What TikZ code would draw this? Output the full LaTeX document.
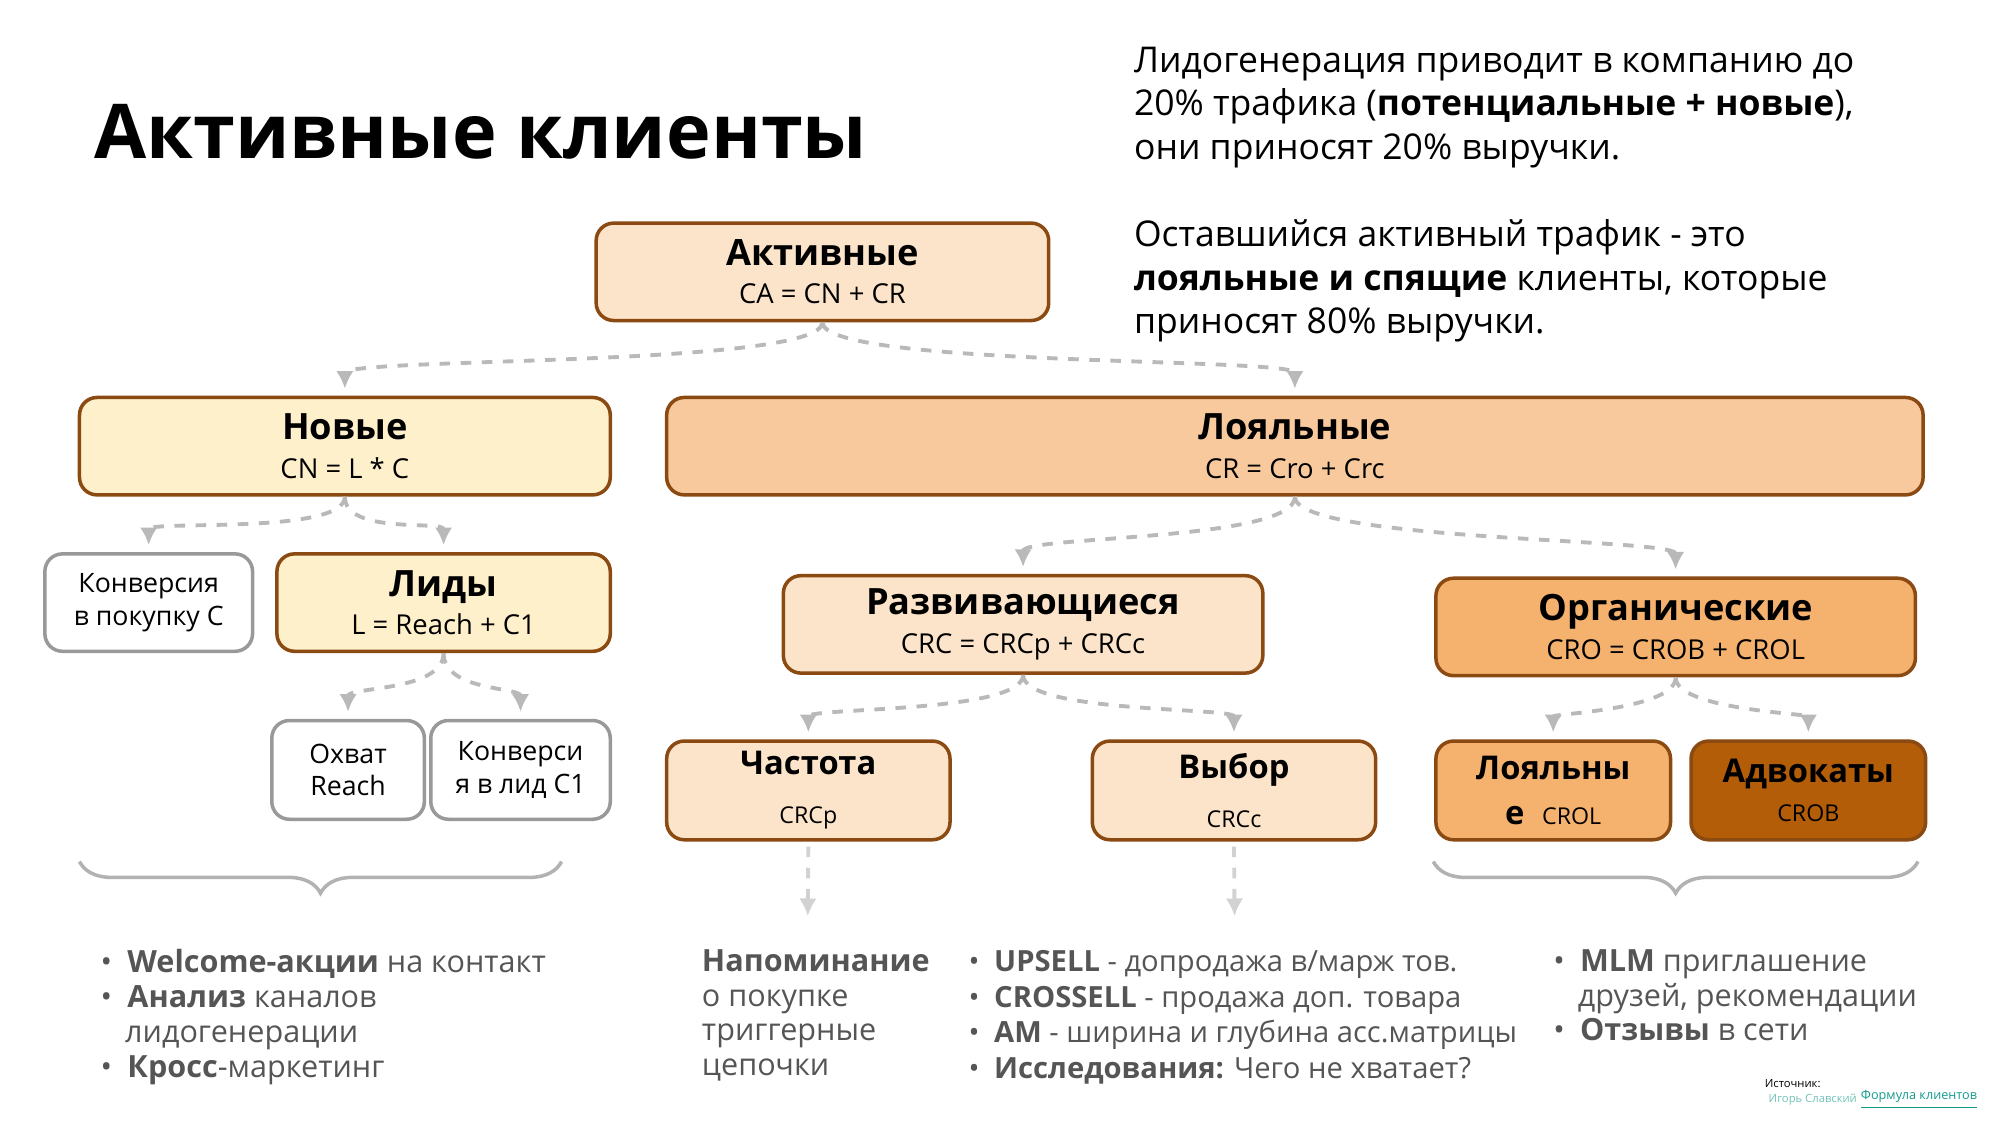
\documentclass[tikz,border=0pt]{standalone}
\usepackage{fontspec}
\setmainfont{Open Sans}
\usetikzlibrary{decorations.pathreplacing}
\definecolor{brownline}{HTML}{8A4A12}
\definecolor{peach}{HTML}{FCE4CA}
\definecolor{paleyellow}{HTML}{FFF0CC}
\definecolor{apricot}{HTML}{F8C99C}
\definecolor{orangebox}{HTML}{F5B26E}
\definecolor{darkorange}{HTML}{B35D08}
\definecolor{linkteal}{HTML}{139A8C}
\definecolor{bodygray}{HTML}{555555}
\newcommand\vp{0.01282cm}
\tikzset{
  box/.style={draw=brownline, line width=1pt, rounded corners=5pt, align=center, inner sep=0pt},
  graybox/.style={draw=gray!80, line width=1pt, rounded corners=5pt, align=center, inner sep=0pt, fill=white},
  flow/.style={draw=gray!55, dashed, line width=1.1pt, -{Latex[length=5pt,width=5pt]}, shorten >=2pt},
  btitle/.style={font=\fontsize{10.3}{12.5}\selectfont\bfseries},
}
\newcommand\frm[1]{\\[-1pt]{\fontsize{7.8}{9}\selectfont #1}}
\usetikzlibrary{arrows.meta}
\begin{document}
\begin{tikzpicture}[x=0.01282cm,y=-0.01282cm]
  \useasboundingbox (0,0) rectangle (1560,877.5);

  % title and side text
  \node[anchor=west,font=\fontsize{21.5}{24}\selectfont\bfseries] (title) at (64,103) {Активные клиенты};
  \node[anchor=north west,align=left,font=\fontsize{10.1}{12.4}\selectfont,inner sep=0pt] (note) at (884,36)
    {Лидогенерация приводит в компанию до\\
     20\% трафика (\textbf{потенциальные + новые}),\\
     они приносят 20\% выручки.\\[12.4pt]
     Оставшийся активный трафик - это\\
     \textbf{лояльные и спящие} клиенты, которые\\
     приносят 80\% выручки.};

  % boxes
  \node[box,fill=peach,minimum width=353*\vp,minimum height=76*\vp] (act) at (641.5,212)
    {\fontsize{10.3}{12.5}\selectfont\bfseries Активные\frm{CA = CN + CR}};
  \node[box,fill=paleyellow,minimum width=414*\vp,minimum height=76*\vp] (newc) at (269,348)
    {\fontsize{10.3}{12.5}\selectfont\bfseries Новые\frm{CN = L * C}};
  \node[box,fill=apricot,minimum width=980*\vp,minimum height=76*\vp] (loyal) at (1010,348)
    {\fontsize{10.3}{12.5}\selectfont\bfseries Лояльные\frm{CR = Cro + Crc}};
  \node[graybox,minimum width=162*\vp,minimum height=76*\vp,font=\fontsize{7.6}{9.2}\selectfont] (conv) at (116,470)
    {Конверсия\\в покупку С};
  \node[box,fill=paleyellow,minimum width=260*\vp,minimum height=76*\vp] (leads) at (346,470)
    {\fontsize{10.3}{12.5}\selectfont\bfseries Лиды\frm{L = Reach + C1}};
  \node[box,fill=peach,minimum width=374*\vp,minimum height=76*\vp] (dev) at (798,487)
    {\fontsize{10.3}{12.5}\selectfont\bfseries Развивающиеся\frm{CRC = CRCp + CRCc}};
  \node[box,fill=orangebox,minimum width=374*\vp,minimum height=76*\vp] (org) at (1307,489)
    {\fontsize{10.3}{12.5}\selectfont\bfseries Органические\frm{CRO = CROB + CROL}};
  \node[graybox,minimum width=119*\vp,minimum height=77*\vp,font=\fontsize{7.6}{9.2}\selectfont] (reach) at (271.5,600.5)
    {Охват\\Reach};
  \node[graybox,minimum width=140*\vp,minimum height=77*\vp,font=\fontsize{7.6}{9.2}\selectfont] (convl) at (406,600.5)
    {Конверси\\я в лид С1};
  \node[box,fill=peach,minimum width=221*\vp,minimum height=77*\vp] (freq) at (630.5,616.5)
    {\fontsize{9.3}{12}\selectfont\bfseries Частота\\[2pt]{\fontsize{6.6}{8}\selectfont CRCp}};
  \node[box,fill=peach,minimum width=221*\vp,minimum height=77*\vp] (choice) at (962.5,616.5)
    {\fontsize{9.3}{12}\selectfont\bfseries Выбор\\[2pt]{\fontsize{6.6}{8}\selectfont CRCc}};
  \node[box,fill=orangebox,minimum width=183*\vp,minimum height=77*\vp] (loyl) at (1211.5,616.5)
    {\fontsize{9.3}{12}\selectfont\bfseries Лояльны\\[1pt]{\fontsize{9.3}{12}\selectfont\bfseries е}\enspace{\fontsize{6.6}{8}\selectfont CROL}};
  \node[box,fill=darkorange,minimum width=183*\vp,minimum height=77*\vp] (adv) at (1410.5,616.5)
    {\fontsize{9.3}{12}\selectfont\bfseries Адвокаты\\[-1pt]{\fontsize{6.6}{8}\selectfont CROB}};

  % dashed connectors
  \draw[flow] (act.south) .. controls +(0,35) and +(0,-30) .. (newc.north);
  \draw[flow] (act.south) .. controls +(0,35) and +(0,-30) .. (loyal.north);
  \draw[flow] (newc.south) .. controls +(0,30) and +(0,-25) .. (conv.north);
  \draw[flow] (newc.south) .. controls +(0,30) and +(0,-25) .. (leads.north);
  \draw[flow] (loyal.south) .. controls +(0,35) and +(0,-30) .. (dev.north);
  \draw[flow] (loyal.south) .. controls +(0,35) and +(0,-30) .. (org.north);
  \draw[flow] (leads.south) .. controls +(0,30) and +(0,-25) .. (reach.north);
  \draw[flow] (leads.south) .. controls +(0,30) and +(0,-25) .. (convl.north);
  \draw[flow] (dev.south) .. controls +(0,30) and +(0,-25) .. (freq.north);
  \draw[flow] (dev.south) .. controls +(0,30) and +(0,-25) .. (choice.north);
  \draw[flow] (org.south) .. controls +(0,25) and +(0,-20) .. (loyl.north);
  \draw[flow] (org.south) .. controls +(0,25) and +(0,-20) .. (adv.north);
  \coordinate (freqend) at (630,720);
  \coordinate (choiceend) at (963,720);
  \draw[flow,draw=gray!35] (freq.south) ++(0,4) -- (freqend);
  \draw[flow,draw=gray!35] (choice.south) ++(0,4) -- (choiceend);

  % braces
  \draw[gray!60,line width=1pt,decorate,decoration={brace,mirror,amplitude=9pt}] (62,672) -- (438,672);
  \draw[gray!60,line width=1pt,decorate,decoration={brace,mirror,amplitude=9pt}] (1118,672) -- (1496,672);

  % bottom texts
  \node[anchor=north west,align=left,inner sep=0pt,text=bodygray,font=\fontsize{8.7}{9.9}\selectfont] (tleft) at (78,740)
    {•\enspace\textbf{Welcome-акции} на контакт\\
     •\enspace\textbf{Анализ} каналов\\
     \hspace*{0.8em}лидогенерации\\
     •\enspace\textbf{Кросс}-маркетинг};
  \node[anchor=north west,align=left,inner sep=0pt,text=bodygray,font=\fontsize{8.7}{9.9}\selectfont] (tremind) at (547,740)
    {\textbf{Напоминание}\\о покупке\\триггерные\\цепочки};
  \node[anchor=north west,align=left,inner sep=0pt,text=bodygray,font=\fontsize{8.3}{10.1}\selectfont] (tmid) at (755,741)
    {•\enspace\textbf{UPSELL} - допродажа в/марж тов.\\
     •\enspace\textbf{CROSSELL} - продажа доп. товара\\
     •\enspace\textbf{AM} - ширина и глубина асс.матрицы\\
     •\enspace\textbf{Исследования:} Чего не хватает?};
  \node[anchor=north west,align=left,inner sep=0pt,text=bodygray,font=\fontsize{8.7}{9.9}\selectfont] (tright) at (1211,740)
    {•\enspace\textbf{MLM} приглашение\\
     \hspace*{0.8em}друзей, рекомендации\\
     •\enspace\textbf{Отзывы} в сети};

  % source
  \node[anchor=west,inner sep=0pt,font=\fontsize{3.2}{4}\selectfont] (src) at (1376,845) {Источник:};
  \node[anchor=west,inner sep=0pt,font=\fontsize{3.2}{4}\selectfont,text=linkteal!60] (author) at (1379,858) {Игорь Славский};
  \node[anchor=west,inner sep=0pt,font=\fontsize{3.6}{4}\selectfont,text=linkteal] (link) at (1451,858) {\underline{Формула клиентов}};
\end{tikzpicture}
\end{document}
